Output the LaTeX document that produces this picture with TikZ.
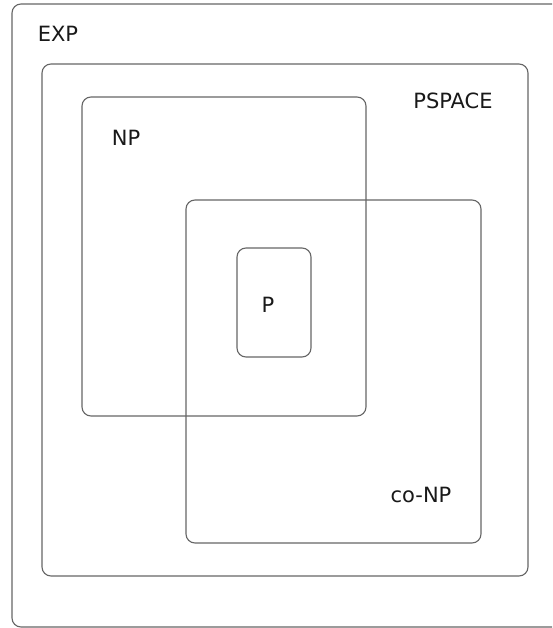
\documentclass[tikz,border=0pt]{standalone}
\usepackage{fontspec}
\setmainfont{DejaVu Sans}
\begin{document}
\begin{tikzpicture}[x=1pt,y=-1pt,
  classbox/.style={draw=black!60,line width=1.1pt,rounded corners=9pt},
  classlabel/.style={font=\fontsize{21}{25}\selectfont,text=black!90,inner sep=0pt}]
\clip (0,0) rectangle (552,628);
\fill[white] (0,0) rectangle (552,628);
% nested complexity classes
\draw[classbox] (12,4) rectangle (580,627);
\draw[classbox] (42,64) rectangle (528,576);
\draw[classbox] (82,97) rectangle (366,416);
\draw[classbox] (186,200) rectangle (481,543);
\draw[classbox] (237,248) rectangle (311,357);
% class names
\node[classlabel] (exp) at (58,34) {EXP};
\node[classlabel] (pspace) at (453,101) {PSPACE};
\node[classlabel] (np) at (126,138) {NP};
\node[classlabel] (conp) at (421,495) {co-NP};
\node[classlabel] (p) at (268,305) {P};
\end{tikzpicture}
\end{document}
